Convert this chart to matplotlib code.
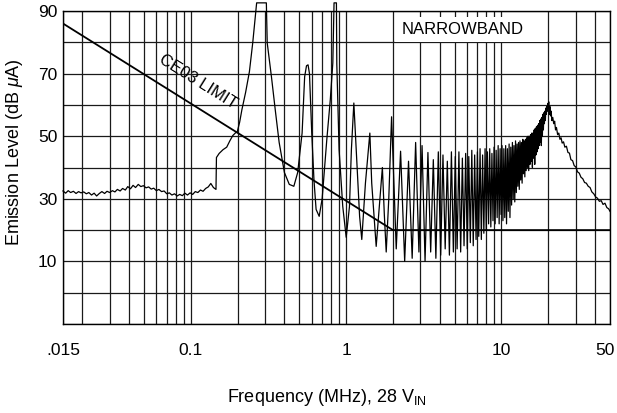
import matplotlib
matplotlib.use('Agg')
import matplotlib.pyplot as plt
import matplotlib.transforms as mtransforms
from matplotlib.ticker import FixedLocator, FixedFormatter, LogLocator, NullFormatter
from matplotlib.patches import Rectangle

plt.rcParams['font.family'] = ['Liberation Sans', 'DejaVu Sans']
plt.rcParams['mathtext.fontset'] = 'custom'
plt.rcParams['mathtext.rm'] = 'Liberation Sans'
plt.rcParams['mathtext.it'] = 'Liberation Sans:italic'

# ---------------- data ----------------
# low-frequency noise floor (MHz, dBuA)
LOW_F = [0.0150, 0.0156, 0.0162, 0.0168, 0.0175, 0.0182, 0.0189, 0.0196, 0.0204, 0.0212,
         0.0220, 0.0229, 0.0238, 0.0247, 0.0257, 0.0267, 0.0278, 0.0288, 0.0300, 0.0312,
         0.0324, 0.0336, 0.0350, 0.0363, 0.0378, 0.0392, 0.0408, 0.0424, 0.0440, 0.0458,
         0.0476, 0.0494, 0.0514, 0.0534, 0.0555, 0.0576, 0.0599, 0.0622, 0.0647, 0.0672,
         0.0699, 0.0726, 0.0754, 0.0784, 0.0815, 0.0847, 0.0880, 0.0914, 0.0950, 0.0988,
         0.1026, 0.1066, 0.1108, 0.1152, 0.1197, 0.1244, 0.1293, 0.1343, 0.1396, 0.1450]
LOW_DB = [32.5, 31.8, 32.6, 32.0, 32.4, 31.7, 32.3, 31.9, 32.2, 31.6,
          32.0, 31.2, 31.8, 30.9, 31.7, 32.3, 31.7, 32.4, 32.0, 32.6,
          32.2, 33.0, 32.5, 33.3, 32.8, 33.9, 33.2, 34.3, 33.6, 34.6,
          33.9, 34.2, 33.5, 33.8, 33.1, 33.4, 32.6, 33.0, 32.3, 32.5,
          31.6, 31.9, 31.2, 31.6, 30.9, 31.4, 31.0, 31.8, 31.2, 31.9,
          31.4, 32.3, 32.0, 32.8, 32.4, 33.3, 33.8, 34.9, 33.6, 33.0]

# low-order harmonics 0.15 - 2 MHz
MID_F = [0.146, 0.152, 0.161, 0.170, 0.178, 0.186, 0.193, 0.199, 0.206, 0.213,
         0.225, 0.238, 0.250, 0.265, 0.306, 0.310, 0.330, 0.350, 0.370, 0.400,
         0.430, 0.460, 0.487, 0.520, 0.540, 0.555, 0.568, 0.580, 0.600, 0.620,
         0.640, 0.670, 0.700, 0.750, 0.790, 0.820, 0.835, 0.865, 0.870, 0.900,
         0.950, 1.000, 1.050, 1.080, 1.120, 1.160, 1.220, 1.260, 1.330, 1.420,
         1.460, 1.560, 1.660, 1.710, 1.760, 1.810, 1.880, 1.960]
MID_DB = [43.2, 44.5, 45.7, 46.5, 48.5, 50.2, 51.0, 51.5, 54.5, 58.5,
          64.0, 70.6, 79.8, 92.6, 92.6, 79.8, 69.0, 58.0, 48.0, 38.4,
          34.6, 34.0, 38.4, 51.0, 69.0, 72.5, 72.8, 70.0, 51.0, 36.0,
          26.6, 24.4, 30.0, 48.9, 61.7, 73.4, 92.6, 92.6, 73.0, 45.7,
          27.6, 17.7, 27.6, 45.7, 60.6, 45.7, 24.4, 17.0, 35.0, 51.0,
          35.0, 14.8, 32.0, 40.0, 25.0, 13.0, 30.0, 56.2]

# dense harmonic comb 2 - 20 MHz: dips and peaks
DIP_F = [2.10, 2.38, 2.66, 2.94, 3.22, 3.50, 3.78, 4.06, 4.34, 4.62,
         4.90, 5.18, 5.46, 5.74, 6.02, 6.30, 6.58, 6.86, 7.14, 7.42,
         7.70, 7.98, 8.26, 8.54, 8.82, 9.10, 9.38, 9.66, 9.94, 10.22,
         10.50, 10.78, 11.06, 11.34, 11.62, 11.90, 12.18, 12.46, 12.74, 13.02,
         13.30, 13.58, 13.86, 14.14, 14.42, 14.70, 14.98, 15.26, 15.54, 15.82,
         16.10, 16.38, 16.66, 16.94, 17.22, 17.50, 17.78, 18.06, 18.34, 18.62,
         18.90, 19.18, 19.46, 19.74, 20.02]
DIP_DB = [14, 10, 11, 13, 10, 13, 11, 12, 14, 12,
          13, 14, 13, 15, 14, 16, 15, 17, 18, 17,
          19, 20, 22, 21, 23, 22, 24, 22, 25, 23,
          24, 22, 26, 24, 28, 30, 29, 32, 34, 33,
          36, 35, 38, 37, 39, 40, 39, 41, 42, 40,
          43, 41, 44, 45, 46, 47, 48, 47, 50, 52,
          54, 55, 57, 58, 59]
PEAK_F = [2.24, 2.52, 2.80, 3.08, 3.36, 3.64, 3.92, 4.20, 4.48, 4.76,
          5.04, 5.32, 5.60, 5.88, 6.16, 6.44, 6.72, 7.00, 7.28, 7.56,
          7.84, 8.12, 8.40, 8.68, 8.96, 9.24, 9.52, 9.80, 10.08, 10.36,
          10.64, 10.92, 11.20, 11.48, 11.76, 12.04, 12.32, 12.60, 12.88, 13.16,
          13.44, 13.72, 14.00, 14.28, 14.56, 14.84, 15.12, 15.40, 15.68, 15.96,
          16.24, 16.52, 16.80, 17.08, 17.36, 17.64, 17.92, 18.20, 18.48, 18.76,
          19.04, 19.32, 19.60, 19.88, 20.16]
PEAK_DB = [45.2, 42.0, 48.0, 47.0, 44.8, 42.5, 45.0, 44.0, 42.0, 45.0,
           43.5, 45.0, 43.0, 44.5, 43.5, 45.5, 44.0, 45.0, 46.0, 44.0,
           46.0, 45.0, 46.0, 44.5, 46.5, 45.5, 47.0, 46.0, 47.0, 46.0,
           47.0, 46.0, 47.5, 46.5, 48.0, 47.0, 48.5, 47.5, 48.0, 48.5,
           48.0, 49.0, 48.5, 49.0, 49.5, 50.0, 50.0, 50.5, 51.0, 51.0,
           52.0, 52.5, 53.0, 53.5, 54.0, 55.0, 55.5, 56.0, 57.0, 57.5,
           58.0, 59.0, 59.5, 60.5, 61.0]

# roll-off above the 20 MHz resonance
TAIL_F = [20.3, 20.5, 20.7, 20.9, 21.1,
          21.4, 21.7, 22.0, 22.3, 22.6,
          23.0, 23.4, 23.8, 24.2, 24.6,
          25.1, 25.6, 26.2, 26.8, 27.4,
          28.0, 28.7, 29.4, 30.1, 30.9,
          31.7, 32.5, 33.4, 34.3, 35.2,
          36.2, 37.2, 38.2, 39.3, 40.4,
          41.5, 42.7, 43.9, 45.1, 46.4,
          47.7, 49.0, 50.0]
TAIL_DB = [57.0, 59.5, 56.5, 58.0, 55.0,
           56.0, 54.0, 54.8, 52.0, 52.8,
           50.5, 51.0, 49.0, 49.5, 47.8,
           48.2, 46.5, 46.8, 44.8, 44.6,
           42.5, 42.2, 40.6, 40.2, 38.6,
           38.2, 36.9, 36.4, 35.2, 35.0,
           34.0, 33.6, 32.2, 31.6, 30.6,
           30.2, 29.2, 29.4, 28.2, 28.6,
           27.2, 26.8, 26.0]

# CE03 narrowband limit
LIMIT_F = [0.015, 2.0, 50.0]
LIMIT_DB = [86, 20, 20]

XTICKS = [0.015, 0.1, 1, 10, 50]
XTICK_LABELS = ['.015', '0.1', '1', '10', '50']
YGRID = [-10, 0, 10, 20, 30, 40, 50, 60, 70, 80, 90]
YLABELED = [10, 30, 50, 70, 90]

# ---------------- assemble curve ----------------
freq = list(LOW_F) + list(MID_F)
level = list(LOW_DB) + list(MID_DB)
for df, dd, pf, pd in zip(DIP_F, DIP_DB, PEAK_F, PEAK_DB):
    freq += [df, pf]
    level += [dd, pd]
freq += TAIL_F
level += TAIL_DB

# ---------------- figure ----------------
W, H = 617, 413
fig = plt.figure(figsize=(W / 100, H / 100), dpi=100)
L, R, T, B = 63, 610, 11, 324
ax = fig.add_axes([L / W, 1 - B / H, (R - L) / W, (B - T) / H])
ax.set_xscale('log')
ax.set_xlim(0.015, 50)
ax.set_ylim(-10, 90)

ax.xaxis.set_major_locator(FixedLocator(XTICKS))
ax.xaxis.set_major_formatter(FixedFormatter(XTICK_LABELS))
ax.xaxis.set_minor_locator(LogLocator(base=10, subs=range(1, 10), numticks=30))
ax.xaxis.set_minor_formatter(NullFormatter())
ax.set_yticks(YGRID)
ax.set_yticklabels([str(v) if v in YLABELED else '' for v in YGRID])

ax.set_axisbelow(True)
gkw = dict(color='#1a1a1a', linewidth=0.9)
ax.grid(True, which='both', axis='x', **gkw)
ax.grid(True, which='major', axis='y', **gkw)
ax.tick_params(axis='both', which='both', length=0, labelsize=12.5, colors='black')
ax.tick_params(axis='x', pad=13.5)
ax.tick_params(axis='y', pad=4)
for s in ax.spines.values():
    s.set_color('black')
    s.set_linewidth(1.0)

# keep the last tick label ("50") inside the figure, as in the reference
last = ax.get_xticklabels()[-1]
last.set_transform(last.get_transform() +
                   mtransforms.ScaledTranslation(-5 / 100, 0, fig.dpi_scale_trans))

# white box behind NARROWBAND label
ax.add_patch(Rectangle((2.07, 80.2), 19.5 - 2.07, 8.0, facecolor='white',
                       edgecolor='none', zorder=1))
ax.text(5.6, 84.0, 'NARROWBAND', fontsize=12, ha='center', va='center', zorder=5)

ax.plot(freq, level, color='black', linewidth=0.9, clip_on=False, zorder=3)
ax.plot(LIMIT_F, LIMIT_DB, color='black', linewidth=1.3, zorder=4)

ax.text(0.111, 67.4, 'CE03 LIMIT', fontsize=12, rotation=-32,
        rotation_mode='anchor', ha='center', va='center', zorder=5)

fig.text(15 / W, 1 - 152 / H, r'Emission Level (dB $\mu$A)', fontsize=13,
         rotation=90, ha='center', va='center')
fig.text(327 / W, 1 - 402 / H, r'Frequency (MHz), 28 V$_{\mathregular{IN}}$',
         fontsize=13, ha='center', va='baseline')

fig.savefig('out.png', dpi=100)
